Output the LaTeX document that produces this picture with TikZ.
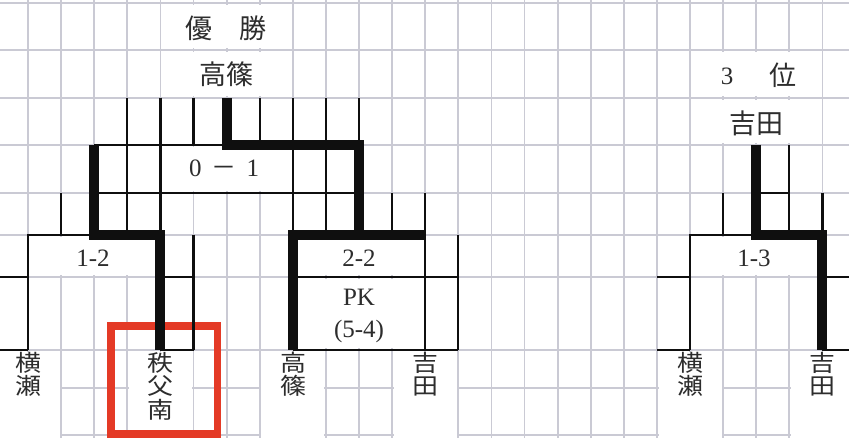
\documentclass[tikz,border=0pt]{standalone}
\usepackage{fontspec}
\setmainfont{Liberation Serif}
\newfontfamily\cjk{Noto Sans CJK JP}
\newcommand\vch[1]{\scalebox{1}[0.88]{#1}}
\definecolor{gridc}{RGB}{202,202,212}
\definecolor{ink}{RGB}{15,15,15}
\definecolor{txt}{RGB}{45,45,45}
\definecolor{hl}{RGB}{228,58,38}
\newcommand\blankbox[4]{\fill[white] ([shift={(1.6,1.6)}]c#1-#2) rectangle ([shift={(-1.6,-1.6)}]c#3-#4);}
\newcommand\namebox[2]{\fill[white] ([shift={(1.6,1.6)}]c#1-7) rectangle ([shift={(-1.6,6)}]c#2-9);}
\begin{document}
\begin{tikzpicture}[x=1pt,y=-1pt,
  grid/.style={gridc,line width=1.8pt},
  thinb/.style={ink,line width=2.2pt},
  thickb/.style={ink,line width=10pt,line join=miter},
  lbl/.style={txt,inner sep=0pt,font=\fontsize{25}{25}\selectfont},
  cj/.style={txt,inner sep=0pt,font=\cjk\fontsize{27}{27}\selectfont},
  vname/.style={txt,inner sep=0pt,anchor=north,align=center,font=\cjk\fontsize{26}{23.5}\selectfont},
]
\useasboundingbox (0,0) rectangle (849,438);
\fill[white] (0,0) rectangle (849,438);
% grid coordinates
\foreach \j/\yy in {0/3,1/50,2/98,3/145,4/193,5/235,6/277,7/350,8/388,9/435}{
  \foreach \i in {-1,...,25}{
    \coordinate (c\i-\j) at ({28+33.1*\i},\yy);
  }
}
% background grid
\foreach \i in {-1,...,25}{
  \draw[grid] ({28+33.1*\i},0) -- ({28+33.1*\i},438);
}
\foreach \yy in {3,50,98,145,193,235,277,350,388,435}{
  \draw[grid] (0,\yy) -- (849,\yy);
}
% white text cells
\blankbox{4}{0}{8}{1}
\blankbox{4}{1}{8}{2}
\blankbox{20}{1}{24}{2}
\blankbox{20}{2}{24}{3}
\blankbox{4}{3}{8}{4}
\blankbox{0}{5}{4}{6}
\blankbox{8}{5}{12}{6}
\blankbox{8}{6}{12}{7}
\blankbox{20}{5}{24}{6}
\namebox{-1}{1}
\namebox{3}{5}
\namebox{7}{9}
\namebox{11}{13}
\namebox{19}{21}
\namebox{23}{25}
% highlight
\node[draw=hl, line width=7.5pt, minimum width=106.5pt, minimum height=108pt, inner sep=0pt] (hlbox) at (164.25,380) {};
% thin black lines, main bracket
\draw[thinb] (c3-2) -- (c3-5);
\draw[thinb] (c4-2) -- (c4-5);
\draw[thinb] (c5-2) -- (c5-3);
\draw[thinb] (c7-2) -- (c7-3);
\draw[thinb] (c8-2) -- (c8-5);
\draw[thinb] (c9-2) -- (c9-5);
\draw[thinb] (c10-2) -- (c10-3);
\draw[thinb] (c2-3) -- (c6-3);
\draw[thinb] (c2-4) -- (c10-4);
\draw[thinb] (c1-4) -- (c1-5);
\draw[thinb] (c11-4) -- (c11-5);
\draw[thinb] (c12-4) -- (c12-7);
\draw[thinb] (c0-7) -- (c0-5) -- (c2-5);
\draw[thinb] (c-1-6) -- (c0-6);
\draw[thinb] (c-1-7) -- (c0-7);
\draw[thinb] (c4-6) -- (c5-6);
\draw[thinb] (c4-7) -- (c5-7);
\draw[thinb] (c5-5) -- (c5-7);
\draw[thinb] (c8-6) -- (c13-6);
\draw[thinb] (c8-7) -- (c13-7);
\draw[thinb] (c13-5) -- (c13-7);
% thin black lines, third place
\draw[thinb] (c23-3) -- (c23-5);
\draw[thinb] (c22-4) -- (c23-4);
\draw[thinb] (c21-4) -- (c21-5);
\draw[thinb] (c24-4) -- (c24-5);
\draw[thinb] (c20-7) -- (c20-5) -- (c22-5);
\draw[thinb] (c19-6) -- (c20-6);
\draw[thinb] (c19-7) -- (c20-7);
\draw[thinb] (c24-6) -- (c25-6);
\draw[thinb] (c24-7) -- (c25-7);
% winning paths
\draw[thickb] (c6-2) -- (c6-3) -- (c10-3) -- (c10-5);
\draw[thickb] (c12-5) -- (c8-5) -- (c8-7);
\draw[thickb] (c2-3) -- (c2-5) -- (c4-5) -- (c4-7);
\draw[thickb] (c22-3) -- (c22-5) -- (c24-5) -- (c24-7);
% texts
\node[cj] (win) at (226,28) {優\hspace{1em}勝};
\node[cj] (wname) at (226,74) {高篠};
\node[lbl] (s01) at (224,168) {0\hspace{0.4em}{\cjk －}\hspace{0.4em}1};
\node[lbl] (s12) at (93,258) {1-2};
\node[lbl] (s22) at (359,258) {2-2};
\node[lbl] (pk) at (359,297) {PK};
\node[lbl] (pks) at (359,331) {(5-4)};
\node[lbl] (t3) at (727,76) {3};
\node[cj] (twei) at (783,75) {位};
\node[cj] (tname) at (756,123) {吉田};
\node[lbl] (s13) at (754,258) {1-3};
\node[vname] (n1) at (28,352) {\vch{横}\\\vch{瀬}};
\node[vname] (n2) at (160,352) {\vch{秩}\\\vch{父}\\\vch{南}};
\node[vname] (n3) at (293,352) {\vch{高}\\\vch{篠}};
\node[vname] (n4) at (425,352) {\vch{吉}\\\vch{田}};
\node[vname] (n5) at (690,352) {\vch{横}\\\vch{瀬}};
\node[vname] (n6) at (822,352) {\vch{吉}\\\vch{田}};
\end{tikzpicture}
\end{document}
